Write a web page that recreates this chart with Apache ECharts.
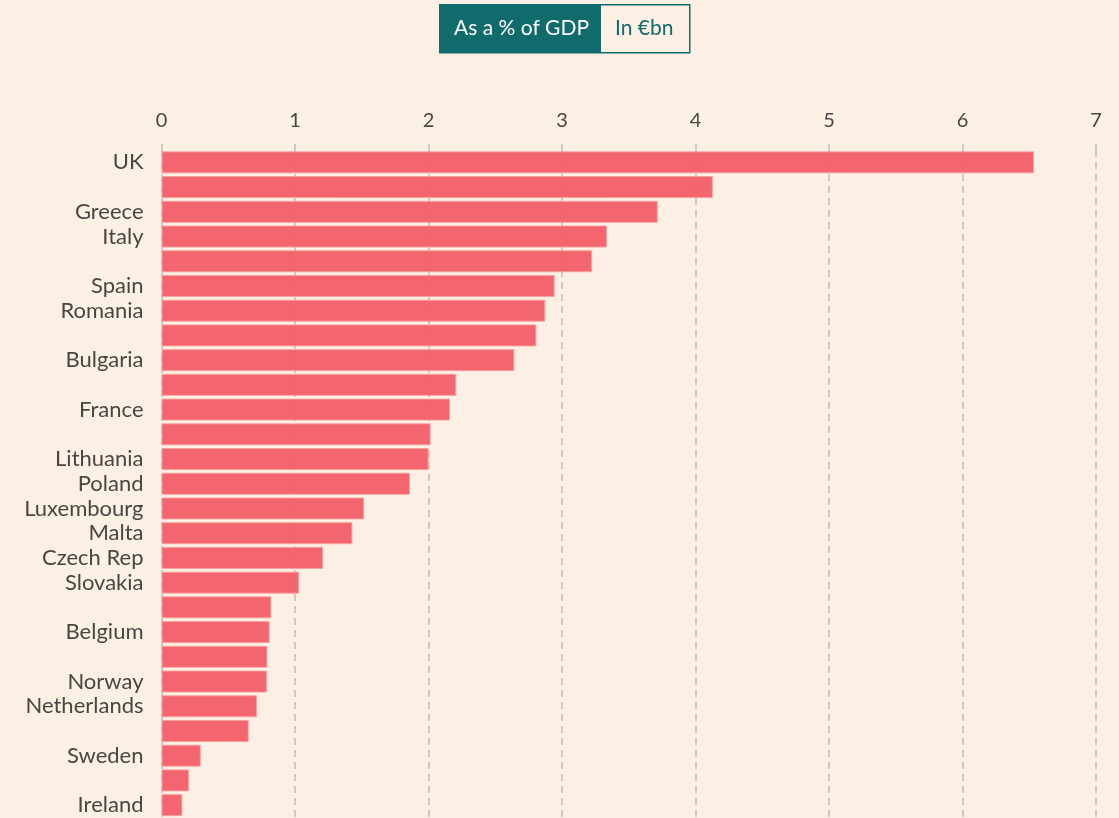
<!DOCTYPE html>
<html>
<head>
<meta charset="utf-8">
<script src="https://cdn.jsdelivr.net/npm/echarts@6/dist/echarts.min.js"></script>
<style>
html,body{margin:0;padding:0;background:#fcefe4;}
#chart{width:1119px;height:818px;}
</style>
</head>
<body>
<div id="chart"></div>
<script>
const categories = ["UK","","Greece","Italy","","Spain","Romania","","Bulgaria","","France","","Lithuania","Poland","Luxembourg","Malta","Czech Rep","Slovakia","","Belgium","","Norway","Netherlands","","Sweden","","Ireland"];
const values = [6.535,4.13,3.717,3.337,3.225,2.945,2.875,2.808,2.643,2.208,2.161,2.016,2.001,1.861,1.517,1.43,1.21,1.03,0.823,0.81,0.793,0.79,0.715,0.653,0.294,0.206,0.156];
const tickLabels = ["0","1","2","3","4","5","6","7"];
const buttonLabels = ["As a % of GDP","In €bn"];

const FONT = 'Lato, "Open Sans", sans-serif';
const TEAL = '#0f6b6c';
const chart = echarts.init(document.getElementById('chart'), null, {renderer:'canvas'});
chart.setOption({
  backgroundColor: '#fcefe4',
  animation: false,
  graphic: [
    {type:'rect', left:439, top:4, shape:{width:250, height:48}, style:{fill:'#fcefe4', stroke:TEAL, lineWidth:1.5}},
    {type:'rect', left:439, top:4, shape:{width:162, height:48}, style:{fill:TEAL}},
    {type:'text', left:454, top:18, style:{text:buttonLabels[0], fill:'#ffffff', font:'21px ' + FONT}},
    {type:'text', left:615, top:18, style:{text:buttonLabels[1], fill:TEAL, font:'21px ' + FONT}}
  ],
  grid: {left:161.5, right:23, top:150, bottom:0.5, containLabel:false},
  xAxis: {
    type:'value', position:'top', min:0, max:7, interval:1,
    axisLine:{show:false},
    axisTick:{show:true, length:8, lineStyle:{color:'#c6bdb4', width:1.5, type:[6,5]}},
    axisLabel:{margin:19, fontSize:20, color:'#4a4542', fontFamily:FONT, formatter:(v)=>tickLabels[Math.round(v)]},
    splitLine:{show:true, lineStyle:{color:'#c6bdb4', width:1.5, type:[7,5]}}
  },
  yAxis: {
    type:'category', inverse:true, data:categories,
    axisLine:{show:false}, axisTick:{show:false},
    axisLabel:{margin:18, fontSize:22, color:'#4a4542', fontFamily:FONT, interval:0}
  },
  series: [{
    type:'bar', data:values, barCategoryGap:'11%',
    itemStyle:{color:'rgba(242,94,104,0.94)', borderColor:'rgba(250,160,160,0.9)', borderWidth:1},
    z:2
  }]
});
</script>
</body>
</html>
